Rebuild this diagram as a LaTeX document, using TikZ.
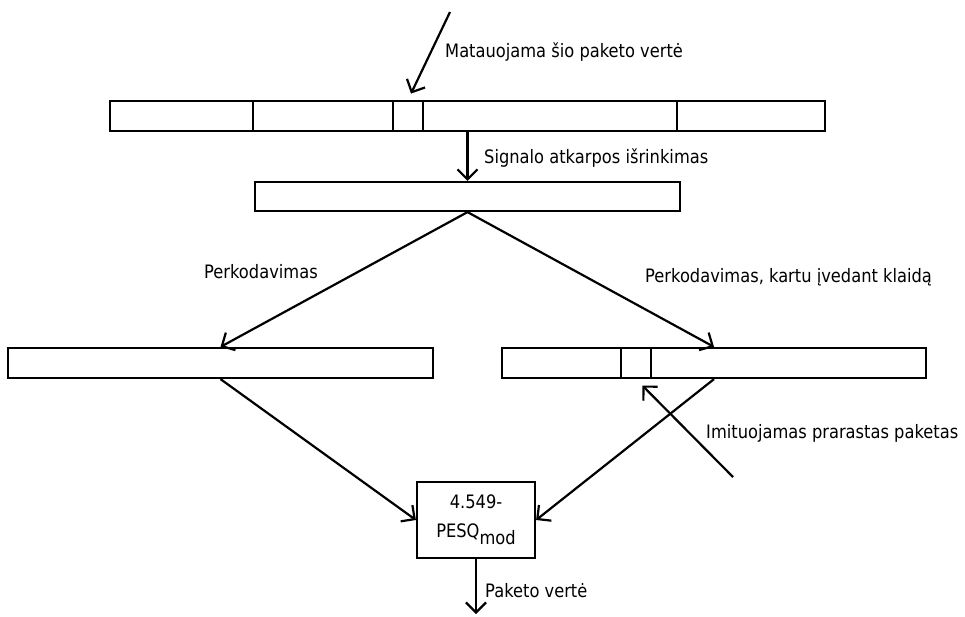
\documentclass[tikz,border=0pt]{standalone}
\usepackage{fontspec}
\setmainfont{DejaVu Sans}[FakeStretch=0.88]
\usetikzlibrary{positioning,arrows.meta}
\tikzset{bar node/.style={rectangle,draw,line width=2.2pt,minimum height=30pt,inner sep=0pt},
label node/.style={anchor=base west,inner sep=0pt,font=\fontsize{18.5}{29}\selectfont},}

\begin{document}
\begin{tikzpicture}[x=1pt,y=-1pt,>={Straight Barb[length=10pt,width=20pt]}]
    \useasboundingbox (0,0) rectangle (965,616);
    \node[bar node,minimum width=715pt] (sig) at (467.5,116) {};
    \node[bar node,minimum width=30pt] (pkt) at (408,116) {};
    \node[bar node,minimum width=425pt,minimum height=29pt] (seg) at (467.5,196.5) {};
    \node[bar node,minimum width=425pt] (ref) at (220.5,363) {};
    \node[bar node,minimum width=424pt] (deg) at (714,363) {};
    \node[bar node,minimum width=30pt] (lost) at (636,363) {};
    \node[bar node,minimum width=118pt,minimum height=76pt,align=center,
          font=\fontsize{18.5}{29}\selectfont] (pesq) at (476,520)
          {4.549-\\PESQ\raisebox{-7pt}{mod}};
    \draw[line width=2.2pt] (253,0 |- sig.north) -- (253,0 |- sig.south)
                            (677,0 |- sig.north) -- (677,0 |- sig.south);

    \coordinate (meas) at (450,12);
    \coordinate (imit) at (733,477);
    \coordinate (out) at (476,614);

    \path[line width=2.2pt,->]
    (meas) edge[shorten >=7pt] (pkt.north)
    (sig.south) edge (seg.north)
    (seg.south) edge (ref.north)
    (seg.south) edge (deg.north)
    (ref.south) edge (pesq.west)
    (deg.south) edge (pesq.east)
    (imit) edge[shorten >=9pt] (lost.south)
    (pesq.south) edge (out);

    \node[label node] (l1) at (445,57) {Matauojama šio paketo vertė};
    \node[label node] (l2) at (484,163) {Signalo atkarpos išrinkimas};
    \node[label node] (l3) at (204,278) {Perkodavimas};
    \node[label node] (l4) at (645,282) {Perkodavimas, kartu įvedant klaidą};
    \node[label node] (l5) at (706,438) {Imituojamas prarastas paketas};
    \node[label node] (l6) at (485,597) {Paketo vertė};
\end{tikzpicture}
\end{document}
